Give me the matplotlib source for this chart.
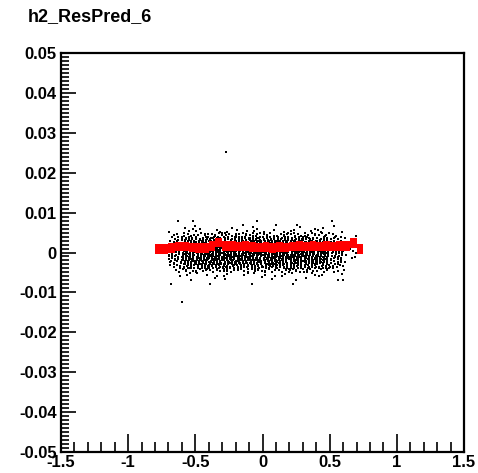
import matplotlib
matplotlib.use("Agg")
import matplotlib.pyplot as plt
from matplotlib.ticker import MultipleLocator
import numpy as np

# scatter content of h2_ResPred_6, counts per cell
# x cells of 0.1 from -0.7 to 0.7, y cells of 0.001 from +0.007 (top) to -0.007
x_edges = np.arange(-0.7, 0.7001, 0.1)
y_edges = np.arange(0.007, -0.0071, -0.001)
counts = [
    [0, 1, 1, 0, 1, 1, 1, 0, 1, 1, 0, 1, 1, 0],
    [1, 2, 2, 2, 1, 2, 2, 2, 1, 2, 2, 2, 1, 0],
    [2, 5, 6, 5, 6, 5, 6, 5, 6, 5, 6, 5, 2, 1],
    [5, 10, 11, 12, 11, 12, 11, 12, 11, 12, 11, 10, 5, 1],
    [7, 15, 17, 18, 17, 18, 17, 18, 17, 18, 17, 15, 7, 2],
    [8, 18, 20, 21, 20, 21, 20, 21, 20, 21, 20, 18, 8, 2],
    [9, 19, 21, 22, 21, 22, 21, 22, 21, 22, 21, 19, 9, 2],
    [9, 19, 21, 22, 21, 22, 21, 22, 21, 22, 21, 19, 9, 2],
    [8, 18, 20, 21, 20, 21, 20, 21, 20, 21, 20, 18, 8, 2],
    [7, 15, 17, 18, 17, 18, 17, 18, 17, 18, 17, 15, 7, 1],
    [5, 10, 12, 12, 11, 12, 11, 12, 11, 12, 11, 10, 5, 1],
    [2, 5, 6, 5, 6, 5, 6, 5, 6, 5, 6, 5, 2, 1],
    [1, 2, 2, 1, 2, 2, 1, 2, 2, 1, 2, 2, 1, 0],
    [0, 1, 0, 1, 1, 0, 1, 1, 0, 1, 1, 0, 1, 0],
]

# isolated entries away from the core
out_x = [-0.27, -0.60, -0.68, -0.39, -0.08, 0.23, 0.56, -0.63, -0.52, -0.04, 0.52, 0.26]
out_y = [0.0251, -0.0125, -0.0078, -0.0078, -0.0078, -0.0078, -0.0070,
         0.0078, 0.0078, 0.0078, 0.0078, 0.0070]

# red profile, bins of 0.05 from -0.8 to 0.75
prof_lo = -0.8
prof_w = 0.05
prof_mean = [0.0009, 0.0009, 0.0011, 0.0015, 0.0015, 0.0013, 0.0012, 0.0011,
             0.0017, 0.0025, 0.0017, 0.0016, 0.0015, 0.0016, 0.0014, 0.0013,
             0.0014, 0.0012, 0.0014, 0.0013, 0.0015, 0.0016, 0.0015, 0.0016,
             0.0015, 0.0016, 0.0015, 0.0017, 0.0016, 0.0024, 0.0009]
prof_err = 0.0012


def scatter_points(x_edges, y_edges, counts):
    # spread the entries of each cell over it (R2 low discrepancy layout)
    xs, ys = [], []
    k = 0
    for r, row in enumerate(counts):
        y_hi, y_lo = y_edges[r], y_edges[r + 1]
        for c, n in enumerate(row):
            x_lo, x_hi = x_edges[c], x_edges[c + 1]
            for _ in range(n):
                k += 1
                u = (0.5 + k * 0.7548776662) % 1.0
                v = (0.5 + k * 0.5698402910) % 1.0
                xs.append(x_lo + u * (x_hi - x_lo))
                ys.append(y_lo + v * (y_hi - y_lo))
    return xs, ys


plt.rcParams['font.family'] = ['Liberation Sans', 'DejaVu Sans']
plt.rcParams['font.weight'] = 'bold'

fig = plt.figure(figsize=(4.78, 4.73), dpi=100)
ax = fig.add_axes([61 / 478, 1 - 452 / 473, 403 / 478, 399 / 473])

xs, ys = scatter_points(x_edges, y_edges, counts)
ax.plot(xs, ys, linestyle='none', marker='s', ms=1.5, mew=0, color='black')
ax.plot(out_x, out_y, linestyle='none', marker='s', ms=1.8, mew=0, color='black')

lefts = [prof_lo + i * prof_w for i in range(len(prof_mean))]
ax.bar(lefts, [2 * prof_err] * len(prof_mean), width=prof_w, align='edge',
       bottom=[m - prof_err for m in prof_mean], color='red', linewidth=0, zorder=3)

ax.set_xlim(-1.5, 1.5)
ax.set_ylim(-0.05, 0.05)

xt = np.arange(-1.5, 1.51, 0.5)
yt = np.round(np.arange(-0.05, 0.0501, 0.01), 3)
ax.set_xticks(xt)
ax.set_xticklabels([f'{v:g}' for v in xt])
ax.set_yticks(yt)
ax.set_yticklabels([f'{v:g}' for v in yt])
ax.xaxis.set_minor_locator(MultipleLocator(0.1))
ax.yaxis.set_minor_locator(MultipleLocator(0.001))

ax.tick_params(which='major', direction='in', length=11, width=1.2, labelsize=12,
               top=False, right=False, pad=3)
ax.tick_params(which='minor', direction='in', length=6, width=1.2,
               top=False, right=False)
ax.tick_params(axis='x', which='major', length=13, pad=2)
ax.tick_params(axis='x', which='minor', length=7)

for s in ax.spines.values():
    s.set_linewidth(1.6)

fig.text(28 / 478, 1 - 17 / 473, 'h2_ResPred_6', fontsize=13, fontweight='bold',
         ha='left', va='center')

fig.savefig('out.png', dpi=100)
